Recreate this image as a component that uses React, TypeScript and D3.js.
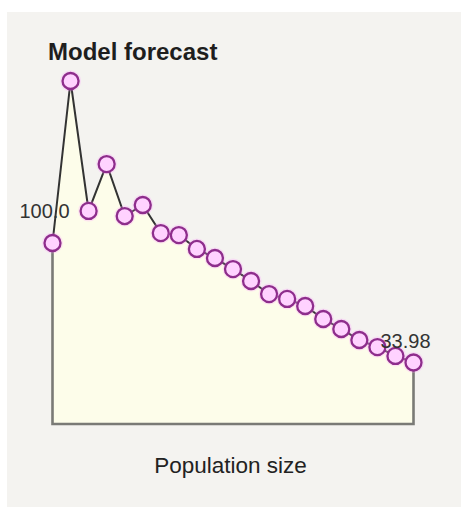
import React from "react";
import * as d3 from "d3";

const steps: number[] = Array.from({ length: 21 }, (_, i) => i);
const forecast: number[] = [
  100.0, 189.5, 117.7, 143.6, 114.9, 121.0, 105.5, 104.4, 96.7, 91.7, 85.6,
  79.0, 71.8, 69.1, 65.2, 58.0, 52.5, 46.4, 42.5, 37.6, 33.98,
];
const title = "Model forecast";
const xLabel = "Population size";
const firstLabel = "100.0";
const lastLabel = "33.98";

export default function App() {
  const W = 461;
  const H = 507;
  const x = d3.scaleLinear().domain([0, steps.length - 1]).range([52.5, 413.5]);
  const y = d3.scaleLinear().domain([0, 100]).range([424, 243]);
  const data = steps.map((s, i) => ({ s, v: forecast[i] }));

  const area = d3
    .area<{ s: number; v: number }>()
    .x((d) => x(d.s))
    .y0(y(0))
    .y1((d) => y(d.v));
  const line = d3
    .line<{ s: number; v: number }>()
    .x((d) => x(d.s))
    .y((d) => y(d.v));

  const first = data[0];
  const last = data[data.length - 1];
  const frame = d3.path();
  frame.moveTo(x(first.s), y(first.v));
  frame.lineTo(x(first.s), y(0));
  frame.lineTo(x(last.s), y(0));
  frame.lineTo(x(last.s), y(last.v));

  const font = "'Liberation Sans', Arial, sans-serif";

  return (
    <svg
      width={W}
      height={H}
      style={{ position: "absolute", left: 0, top: 0, display: "block" }}
    >
      <rect x={0} y={0} width={W} height={H} fill="#ffffff" />
      <rect x={7} y={12} width={W - 7} height={H - 12} fill="#f4f3f0" />
      <text
        x={48}
        y={60}
        fontFamily={font}
        fontWeight="bold"
        fontSize={24}
        fill="#1e1e1e"
      >
        {title}
      </text>
      <path d={area(data) || ""} fill="#fdfdea" />
      <path d={frame.toString()} fill="none" stroke="#7a7a76" strokeWidth={2.6} />
      <path d={line(data) || ""} fill="none" stroke="#333" strokeWidth={2} />
      <text
        x={x(first.s) - 8}
        y={218}
        textAnchor="middle"
        fontFamily={font}
        fontSize={20}
        fill="#333"
      >
        {firstLabel}
      </text>
      {data.map((d, i) => (
        <g key={i}>
          <circle cx={x(d.s)} cy={y(d.v)} r={10.5} fill="#ff99ff" opacity={0.25} />
          <circle
            cx={x(d.s)}
            cy={y(d.v)}
            r={8}
            fill="#ffd2ff"
            stroke="#8e2d8c"
            strokeWidth={2.3}
          />
        </g>
      ))}
      <text
        x={x(last.s) - 8}
        y={348}
        textAnchor="middle"
        fontFamily={font}
        fontSize={20}
        fill="#333"
      >
        {lastLabel}
      </text>
      <text
        x={230.5}
        y={473}
        textAnchor="middle"
        fontFamily={font}
        fontSize={22.5}
        fill="#222"
      >
        {xLabel}
      </text>
    </svg>
  );
}
